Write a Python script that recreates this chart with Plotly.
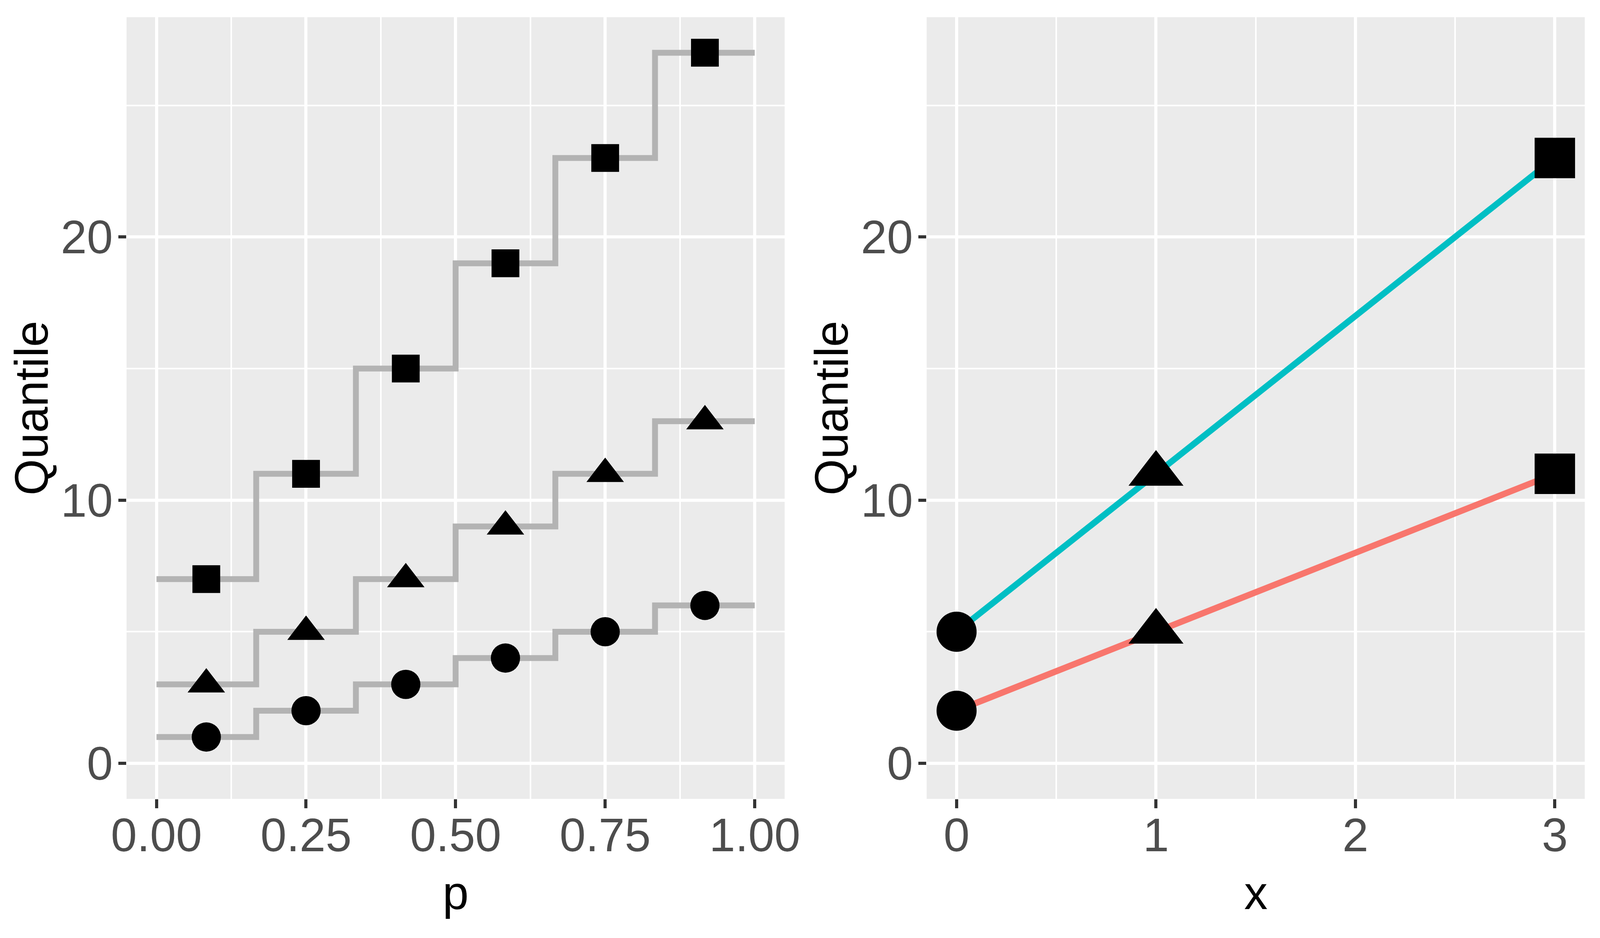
import plotly.graph_objects as go

# ---- data (left panel: step quantile functions) ----
step_p = [0.0, 0.1667, 0.3333, 0.5, 0.6667, 0.8333, 1.0]
mid_p = [0.0833, 0.25, 0.4167, 0.5833, 0.75, 0.9167]
q_circle = [1, 2, 3, 4, 5, 6]
q_triangle = [3, 5, 7, 9, 11, 13]
q_square = [7, 11, 15, 19, 23, 27]

# ---- data (right panel) ----
x_vals = [0, 1, 3]
red_q = [2, 5, 11]
cyan_q = [5, 11, 23]
x_symbols = ["circle", "triangle-up", "square"]

x_ticks_left = [0, 0.25, 0.5, 0.75, 1.0]
x_ticklabels_left = ["0.00", "0.25", "0.50", "0.75", "1.00"]
x_ticks_right = [0, 1, 2, 3]
y_ticks = [0, 10, 20]

FONT = "Liberation Sans, Arial, sans-serif"
GREY = "#B3B3B3"
RED = "#F8766D"
CYAN = "#00BFC4"

# the browser viewport is 4096 px wide: scale horizontal geometry
W, H = 4096, 2400
SX = W / 4800.0
SM = SX ** 0.5          # scale for glyph / marker sizes
FS = 120                # font size

fig = go.Figure()

left_series = [
    (q_circle, "circle", 81),
    (q_triangle, "triangle-up", 90),
    (q_square, "square", 77),
]
for q, sym, sz in left_series:
    fig.add_trace(go.Scatter(
        x=step_p, y=q + [q[-1]], mode="lines", line_shape="hv",
        line=dict(color=GREY, width=15), xaxis="x", yaxis="y",
        showlegend=False, hoverinfo="skip"))
for q, sym, sz in left_series:
    fig.add_trace(go.Scatter(
        x=mid_p, y=q, mode="markers",
        marker=dict(symbol=sym, size=sz * SM, color="black", opacity=1, line=dict(width=0)),
        xaxis="x", yaxis="y", showlegend=False))

right_sizes = {"circle": 111, "triangle-up": 132, "square": 112}
for q, col in [(red_q, RED), (cyan_q, CYAN)]:
    fig.add_trace(go.Scatter(
        x=x_vals, y=q, mode="lines", line=dict(color=col, width=16),
        xaxis="x2", yaxis="y2", showlegend=False, hoverinfo="skip"))
for q in [red_q, cyan_q]:
    fig.add_trace(go.Scatter(
        x=x_vals, y=q, mode="markers",
        marker=dict(symbol=x_symbols, size=[right_sizes[s] * SM for s in x_symbols],
                    color="black", opacity=1, line=dict(width=0)),
        xaxis="x2", yaxis="y2", showlegend=False))

# panel edges measured on the 4800x2400 reference
L1, R1, L2, R2 = 380 * SX, 2354 * SX, 2780 * SX, 4754 * SX
TOP, BOT = 44, 2044
ml, mr, mt, mb = round(L1), round(W - R2), TOP, H - BOT
pw = W - ml - mr
ph = H - mt - mb
d_left = [0, (R1 - ml) / pw]
d_right = [(L2 - ml) / pw, 1]

tickfont = dict(family=FONT, size=FS, color="#4D4D4D")
titlefont = dict(family=FONT, size=FS, color="black")

common_x = dict(showgrid=True, gridcolor="white", gridwidth=7.5, zeroline=False,
                showline=False, ticks="outside", ticklen=23, tickwidth=7.5,
                tickcolor="#333333", tickfont=tickfont, ticklabelstandoff=-34)
common_y = dict(showgrid=True, gridcolor="white", gridwidth=7.5, zeroline=False,
                showline=False, ticks="outside", ticklen=20, tickwidth=7.5,
                tickcolor="#333333", tickfont=tickfont, ticklabelstandoff=-10,
                range=[-1.35, 28.35], tickmode="array", tickvals=y_ticks,
                minor=dict(showgrid=True, gridcolor="white", gridwidth=3.7,
                           tickmode="array", tickvals=[5, 15, 25], ticks=""))

fig.update_layout(
    width=W, height=H,
    margin=dict(l=ml, r=mr, t=mt, b=mb, autoexpand=False),
    paper_bgcolor="white", plot_bgcolor="#EBEBEB",
    font=dict(family=FONT),
    xaxis=dict(domain=d_left, anchor="y", range=[-0.05, 1.05],
               tickmode="array", tickvals=x_ticks_left, ticktext=x_ticklabels_left,
               minor=dict(showgrid=True, gridcolor="white", gridwidth=3.7,
                          tickmode="array", tickvals=[0.125, 0.375, 0.625, 0.875], ticks=""),
               **common_x),
    xaxis2=dict(domain=d_right, anchor="y2", range=[-0.15, 3.15],
                tickmode="array", tickvals=x_ticks_right,
                minor=dict(showgrid=True, gridcolor="white", gridwidth=3.7,
                           tickmode="array", tickvals=[0.5, 1.5, 2.5], ticks=""),
                **common_x),
    yaxis=dict(domain=[0, 1], anchor="x", **common_y),
    yaxis2=dict(domain=[0, 1], anchor="x2", **common_y),
)
fig.update_xaxes(automargin=False)
fig.update_yaxes(automargin=False)

# axis titles as annotations (box centre = baseline - 0.346 em)
def px_to_paper_x(px):
    return (px - ml) / pw

def px_to_paper_y(py):
    return (BOT - py) / ph

x_title_baseline = 2326
x_title_y = px_to_paper_y(x_title_baseline - 0.346 * FS)
for cx, txt in [((L1 + R1) / 2, "p"), ((L2 + R2) / 2, "x")]:
    fig.add_annotation(text=txt, xref="paper", yref="paper",
                       x=px_to_paper_x(cx), y=x_title_y, xanchor="center", yanchor="middle",
                       showarrow=False, font=titlefont)

y_title_baseline_off = 238 * SX   # baseline distance left of panel edge
for edge in [L1, L2]:
    cx = edge - y_title_baseline_off - 0.346 * FS
    fig.add_annotation(text="Quantile", xref="paper", yref="paper", textangle=-90,
                       x=px_to_paper_x(cx), y=0.5, xanchor="center", yanchor="middle",
                       showarrow=False, font=titlefont)

fig.write_html("out.html", config={"displayModeBar": False},
               post_script="document.body.style.margin='0';")
